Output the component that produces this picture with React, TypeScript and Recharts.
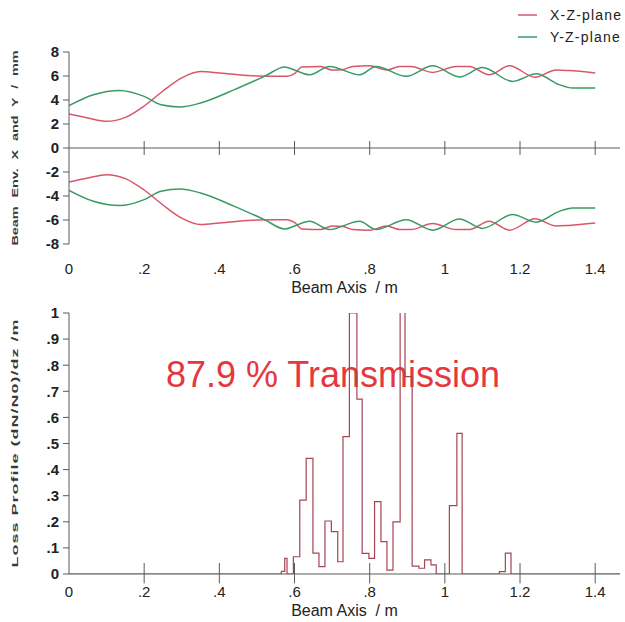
import React from 'react';
import { ComposedChart, Line, XAxis, YAxis, ReferenceLine, Legend, Label } from 'recharts';

// ---- Data ----
const xTicks = [0, 0.2, 0.4, 0.6, 0.8, 1.0, 1.2, 1.4];
const envTicks = [-8, -6, -4, -2, 0, 2, 4, 6, 8];
const lossTicks = [0, 0.1, 0.2, 0.3, 0.4, 0.5, 0.6, 0.7, 0.8, 0.9, 1];

const seriesNames = ['X-Z-plane', 'Y-Z-plane'];

// X-Z-plane envelope (mm) along beam axis (m)
const xzPos = [0, 0.05, 0.10, 0.15, 0.20, 0.25, 0.30, 0.35, 0.40, 0.45, 0.50, 0.55, 0.58, 0.60, 0.62, 0.67, 0.70, 0.73, 0.755, 0.80, 0.845, 0.88, 0.91, 0.967, 1.03, 1.065, 1.118, 1.172, 1.24, 1.296, 1.33, 1.40];
const xzEnv = [2.83, 2.5, 2.22, 2.55, 3.5, 4.75, 5.85, 6.38, 6.25, 6.1, 6.0, 5.97, 5.97, 6.2, 6.75, 6.8, 6.5, 6.55, 6.8, 6.85, 6.5, 6.8, 6.8, 6.3, 6.8, 6.8, 6.1, 6.85, 5.9, 6.5, 6.45, 6.25];

// Y-Z-plane envelope (mm)
const yzPos = [0, 0.065, 0.135, 0.20, 0.245, 0.295, 0.35, 0.44, 0.52, 0.574, 0.60, 0.64, 0.693, 0.773, 0.817, 0.897, 0.968, 1.039, 1.10, 1.18, 1.243, 1.304, 1.34, 1.40];
const yzEnv = [3.53, 4.44, 4.8, 4.3, 3.6, 3.42, 3.75, 4.86, 5.97, 6.75, 6.5, 6.1, 6.8, 6.1, 6.8, 5.97, 6.85, 5.92, 6.7, 5.55, 6.18, 5.28, 5.0, 5.0];

// Loss profile histogram: bin left edges and values
const lossEdges = [0, 0.565, 0.574, 0.580, 0.597, 0.614, 0.631, 0.649, 0.665, 0.681, 0.698, 0.715, 0.729, 0.746, 0.766, 0.780, 0.798, 0.813, 0.830, 0.846, 0.862, 0.881, 0.894, 0.913, 0.931, 0.946, 0.963, 0.977, 1.012, 1.032, 1.046, 1.145, 1.161, 1.176, 1.466];
const lossValues = [0, 0.01, 0.06, 0, 0.066, 0.283, 0.443, 0.08, 0.028, 0.203, 0.162, 0.047, 0.526, 1.0, 0.67, 0.079, 0.06, 0.277, 0.124, 0.015, 0.2, 1.08, 0.756, 0.03, 0.022, 0.054, 0.035, 0, 0.262, 0.539, 0, 0.009, 0.08, 0, 0];

const transmissionText = '87.9 % Transmission';

// ---- Tables ----
const xzData = xzPos.map((x, i) => ({ x, v: xzEnv[i] }));
const yzData = yzPos.map((x, i) => ({ x, v: yzEnv[i] }));
const xzNegData = xzPos.map((x, i) => ({ x, v: -xzEnv[i] }));
const yzNegData = yzPos.map((x, i) => ({ x, v: -yzEnv[i] }));
const lossData = lossEdges.map((x, i) => ({ x, v: lossValues[i] }));

const RED = '#d9566a';
const GREEN = '#3a9a66';
const AXIS = '#5a5a5a';
const FONT = '"Liberation Sans", Arial, Helvetica, sans-serif';

const fmtX = (v: number) => (v === 0 ? '0' : v < 1 ? '.' + Math.round(v * 10) : String(Math.round(v * 10) / 10));
const fmtLoss = (v: number) => (v === 0 ? '0' : v >= 1 ? '1' : '.' + Math.round(v * 10));

const VLabel = ({ text, cx, cy, sx, ls, ws }: any) => (
  <text
    transform={`translate(${cx},${cy}) rotate(-90) scale(${sx},1)`}
    textAnchor="middle"
    dominantBaseline="central"
    fontSize={9}
    fontWeight="bold"
    fill="#3a3a3a"
    style={{ letterSpacing: ls, wordSpacing: ws, fontFamily: FONT }}
  >
    {text}
  </text>
);

const renderLegend = (props: any) => {
  const items = (props.payload || []).filter((p: any) => seriesNames.includes(p.value));
  return (
    <div style={{ fontFamily: FONT }}>
      {items.map((p: any) => (
        <div key={p.value} style={{ display: 'flex', alignItems: 'center', height: 22 }}>
          <svg width={25} height={4} style={{ display: 'block' }}>
            <line x1={3} y1={2} x2={22} y2={2} stroke={p.color} strokeWidth={1.5} />
          </svg>
          <span style={{ marginLeft: 10, fontSize: 14, letterSpacing: 1.2, color: '#222', lineHeight: '22px' }}>
            {p.value}
          </span>
        </div>
      ))}
    </div>
  );
};

export default function App() {
  return (
    <div style={{ position: 'absolute', left: 0, top: 0, width: 625, height: 622, background: '#fff', fontFamily: FONT }}>
      <svg width={625} height={622} style={{ position: 'absolute', left: 0, top: 0 }}>
        <text x={333} y={387} textAnchor="middle" fontSize={36} fill="#e5373e" style={{ fontFamily: FONT }}>
          {transmissionText}
        </text>
      </svg>

      <div style={{ position: 'absolute', left: 0, top: 0 }}>
        <ComposedChart width={625} height={300} margin={{ top: 52, right: 5, bottom: 6, left: 29 }}>
          <XAxis
            dataKey="x"
            type="number"
            domain={[0, 1.466]}
            ticks={xTicks}
            tickFormatter={fmtX}
            axisLine={false}
            tickLine={false}
            tickSize={0}
            tickMargin={19}
            height={50}
            tick={{ fontSize: 15, fill: '#222' }}
            allowDataOverflow
          >
            <Label value={'Beam Axis \u00a0/ m'} position="insideBottom" offset={1} style={{ fontSize: 16, fill: '#222' }} />
          </XAxis>
          <YAxis
            dataKey="v"
            type="number"
            domain={[-8, 8]}
            ticks={envTicks}
            width={40}
            tickSize={6}
            tickMargin={4}
            axisLine={{ stroke: AXIS }}
            tickLine={{ stroke: AXIS }}
            tick={{ fontSize: 15, fill: '#222', fontWeight: 'bold' }}
            label={() => <VLabel text="Beam Env. X and Y / mm" cx={15} cy={148} sx={1.6} ls={0} ws={3} />}
          />
          <ReferenceLine y={0} stroke={AXIS} strokeWidth={1} />
          {xTicks.slice(1).map((t) => (
            <ReferenceLine key={'t1' + t} segment={[{ x: t, y: -0.58 }, { x: t, y: 0.58 }]} stroke={AXIS} strokeWidth={1} />
          ))}
          <Legend
            layout="horizontal"
            verticalAlign="middle"
            align="center"
            content={renderLegend}
            wrapperStyle={{ left: 515, top: 4, right: 'auto', bottom: 'auto', width: 110, height: 44 }}
          />
          <Line data={xzData} dataKey="v" name={seriesNames[0]} type="monotone" stroke={RED} strokeWidth={1.5} dot={false} isAnimationActive={false} />
          <Line data={yzData} dataKey="v" name={seriesNames[1]} type="monotone" stroke={GREEN} strokeWidth={1.5} dot={false} isAnimationActive={false} />
          <Line data={xzNegData} dataKey="v" name="xneg" legendType="none" type="monotone" stroke={RED} strokeWidth={1.5} dot={false} isAnimationActive={false} />
          <Line data={yzNegData} dataKey="v" name="yneg" legendType="none" type="monotone" stroke={GREEN} strokeWidth={1.5} dot={false} isAnimationActive={false} />
        </ComposedChart>
      </div>

      <div style={{ position: 'absolute', left: 0, top: 300 }}>
        <ComposedChart width={625} height={322} margin={{ top: 13, right: 5, bottom: 5, left: 29 }}>
          <XAxis
            dataKey="x"
            type="number"
            domain={[0, 1.466]}
            ticks={xTicks}
            tickFormatter={fmtX}
            axisLine={{ stroke: AXIS }}
            tickLine={false}
            tickSize={0}
            tickMargin={12}
            height={43}
            tick={{ fontSize: 15, fill: '#222' }}
            allowDataOverflow
          >
            <Label value={'Beam Axis \u00a0/ m'} position="insideBottom" offset={1} style={{ fontSize: 16, fill: '#222' }} />
          </XAxis>
          <YAxis
            dataKey="v"
            type="number"
            domain={[0, 1]}
            ticks={lossTicks}
            tickFormatter={fmtLoss}
            width={40}
            tickSize={6}
            tickMargin={4}
            axisLine={{ stroke: AXIS }}
            tickLine={{ stroke: AXIS }}
            tick={{ fontSize: 15, fill: '#222', fontWeight: 'bold' }}
            allowDataOverflow
            label={() => <VLabel text="Loss Profile (dN/N0)/dz /m" cx={15} cy={143} sx={2} ls={0.5} ws={0} />}
          />
          {xTicks.slice(1).map((t) => (
            <ReferenceLine key={'t2' + t} segment={[{ x: t, y: -0.036 }, { x: t, y: 0.042 }]} stroke={AXIS} strokeWidth={1} ifOverflow="visible" />
          ))}
          <Line data={lossData} dataKey="v" name="loss" legendType="none" type="stepAfter" stroke="#a54454" strokeWidth={1.2} dot={false} isAnimationActive={false} />
        </ComposedChart>
      </div>
    </div>
  );
}
